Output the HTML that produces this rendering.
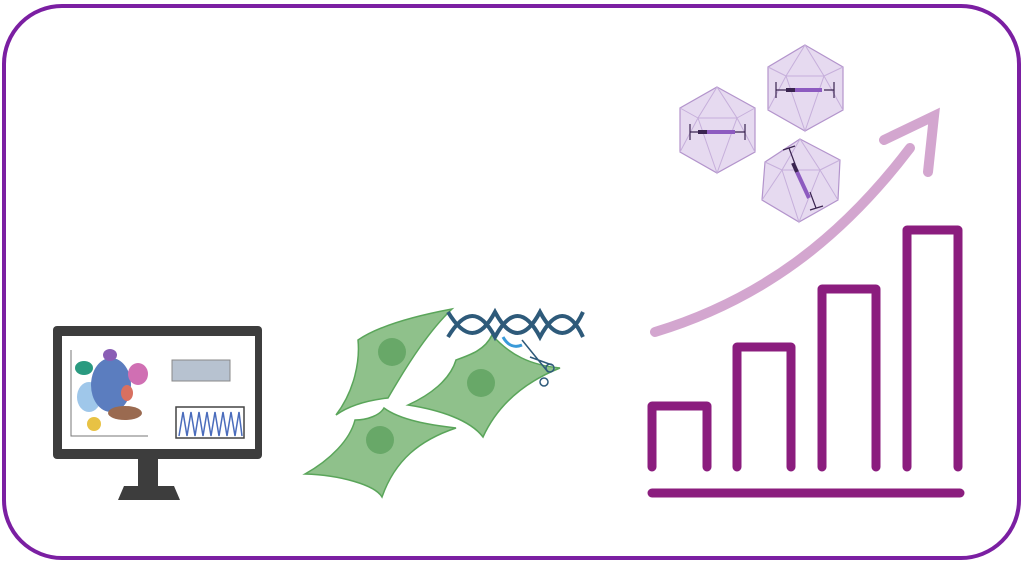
<!DOCTYPE html>
<html><head><style>body{margin:0;background:#fff}svg{display:block}</style></head><body>
<svg width="1024" height="563" viewBox="0 0 1024 563" xmlns="http://www.w3.org/2000/svg">
<rect x="4" y="6" width="1015" height="552" rx="58" fill="#fff" stroke="#7b1fa2" stroke-width="4"/>
<!-- monitor -->
<rect x="53" y="326" width="209" height="133" rx="4" fill="#3d3d3d"/>
<rect x="62" y="336" width="193" height="113" fill="#fff"/>
<rect x="138" y="459" width="20" height="28" fill="#3d3d3d"/>
<path d="M124 486 L174 486 L180 500 L118 500 Z" fill="#3d3d3d"/>
<path d="M71 350 V436 H148" stroke="#777" fill="none" stroke-width="1"/>
<ellipse cx="84" cy="368" rx="9" ry="7" fill="#2a9a80"/>
<ellipse cx="89" cy="397" rx="12" ry="15" fill="#9fc7ea"/>
<ellipse cx="111" cy="385" rx="20" ry="27" fill="#5b7dbf"/>
<ellipse cx="110" cy="355" rx="7" ry="6" fill="#8a5eb5"/>
<ellipse cx="138" cy="374" rx="10" ry="11" fill="#d06fb3"/>
<ellipse cx="127" cy="393" rx="6" ry="8" fill="#d87060"/>
<ellipse cx="125" cy="413" rx="17" ry="7" fill="#9a6a50"/>
<ellipse cx="94" cy="424" rx="7" ry="7" fill="#e8c244"/>
<rect x="172" y="360" width="58" height="21" fill="#b7c2d0" stroke="#888"/>
<rect x="176" y="407" width="68" height="31" fill="#fff" stroke="#444" stroke-width="1.5"/>
<path d="M179 436 L183 412 L187 436 L191 412 L195 436 L199 412 L203 436 L207 412 L211 436 L215 412 L219 436 L223 412 L227 436 L231 412 L235 436 L239 412 L242 436" stroke="#4a6cbc" fill="none" stroke-width="1.5"/>
<!-- cells -->
<g fill="#8fc18b" stroke="#5aa55a" stroke-width="1.5">
<path d="M336 415 C355 390 360 360 358 340 C380 325 420 315 452 309 C430 330 410 360 388 398 C370 400 350 405 336 415Z"/>
<path d="M408 405 C430 395 450 380 456 360 C470 355 485 350 492 335 C510 355 530 365 560 368 C530 380 500 400 483 437 C470 420 440 410 408 405Z"/>
<path d="M305 474 C330 460 350 440 355 420 C368 420 380 415 384 408 C400 420 430 425 456 428 C420 440 395 460 382 497 C375 485 340 475 305 474Z"/>
</g>
<g fill="#68a868"><circle cx="392" cy="352" r="14"/><circle cx="481" cy="383" r="14"/><circle cx="380" cy="440" r="14"/></g>
<!-- DNA -->
<g stroke="#2e5a7a" stroke-width="4" fill="none">
<path d="M448 312 C465 340 480 340 495 312 C510 340 525 340 540 312 C555 340 570 340 583 312"/>
<path d="M448 337 C465 309 480 309 495 337 C510 309 525 309 540 337 C555 309 570 309 583 337"/>
</g>
<path d="M503 337 C508 346 515 348 522 345" stroke="#3a9ad9" stroke-width="3" fill="none"/>
<g stroke="#2e5a7a" stroke-width="1.5" fill="none"><path d="M522 340 L548 372 M530 357 L552 365"/><circle cx="550" cy="368" r="4"/><circle cx="544" cy="382" r="4"/></g>
<!-- arrow -->
<g stroke="#d3a6cf" stroke-width="10" stroke-linecap="round" fill="none">
<path d="M655 332 C760 300 840 240 910 148"/>
<path d="M884 140 L934 116 L928 172"/>
</g>
<!-- capsids -->
<g fill="#e6daf0" stroke="#b394cc" stroke-width="1.2">
<polygon points="717,87 755,108 755,152 717,173 680,152 680,108"/>
<polygon points="805,45 843,67 843,110 805,131 768,110 768,67"/>
<polygon points="800,139 840,160 838,200 799,222 762,200 765,162"/>
</g>
<g stroke="#c6afdb" stroke-width="1" fill="none">
<path d="M717 87 L698 118 L737 118 Z M698 118 L680 152 M737 118 L755 152 M698 118 L717 173 L737 118 M680 108 L698 118 M755 108 L737 118"/>
<path d="M805 45 L786 76 L824 76 Z M786 76 L768 110 M824 76 L843 110 M786 76 L805 131 L824 76 M768 67 L786 76 M843 67 L824 76"/>
<path d="M800 139 L782 170 L820 170 Z M782 170 L762 200 M820 170 L838 200 M782 170 L799 222 L820 170 M765 162 L782 170 M840 160 L820 170"/>
</g>
<g stroke="#3a2450" stroke-width="1.2" fill="none">
<path d="M690 124 V140 M690 132 H700 M745 124 V140 M745 132 H735"/>
<path d="M776 82 V98 M776 90 H786 M834 82 V98 M834 90 H824"/>
<path d="M783 150 L795 146 M789 148 L795 164 M810 210 L823 206 M816 208 L810 192"/>
</g>
<g stroke="#8d5bc0" stroke-width="4"><path d="M707 132 H735"/><path d="M795 90 H822"/><path d="M797 172 L809 198"/></g>
<g stroke="#3a2450" stroke-width="4"><path d="M698 132 H707"/><path d="M786 90 H795"/><path d="M793 163 L797 172"/></g>
<!-- bars -->
<g stroke="#8b1d7e" stroke-width="9" fill="none" stroke-linejoin="round" stroke-linecap="round">
<path d="M652 467 V406 H707 V467"/>
<path d="M737 467 V347 H791 V467"/>
<path d="M822 467 V289 H876 V467"/>
<path d="M907 467 V230 H958 V467"/>
<path d="M652 493 H960"/>
</g>
</svg>
</body></html>
